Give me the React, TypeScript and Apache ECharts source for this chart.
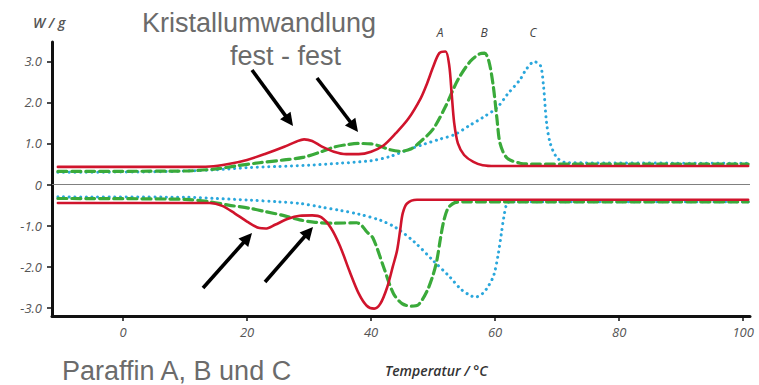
import React, { useEffect, useRef } from "react";
import * as echarts from "echarts";

type Pt = [number, number];

// DSC curves: heat flow (W/g) over temperature (°C)
// Heating runs (endothermic peaks, positive)
const heatA: Pt[] = [
  [-10.5, 0.43], [10, 0.43], [14, 0.44], [17, 0.5], [20, 0.6], [23, 0.75], [26, 0.92],
  [28, 1.05], [29.2, 1.1], [30.5, 1.06], [32, 0.93], [34, 0.8], [36, 0.74], [38, 0.74],
  [40, 0.8], [42, 0.95], [44, 1.25], [46, 1.6], [48, 2.1], [49, 2.45], [50, 2.86],
  [51, 3.2], [52, 3.24], [52.6, 2.9], [53, 2.2], [53.4, 1.5], [54, 1.0], [55, 0.72],
  [56.5, 0.55], [58, 0.47], [60, 0.45], [100.8, 0.45],
];
const heatB: Pt[] = [
  [-10.5, 0.32], [10, 0.33], [15, 0.38], [18, 0.45], [22, 0.53], [26, 0.6], [29, 0.66],
  [32, 0.8], [34, 0.91], [36, 0.97], [38, 1.0], [40, 0.99], [41.5, 0.93], [43, 0.85],
  [44.7, 0.81], [46.5, 0.87], [48, 1.05], [50, 1.35], [52, 1.9], [54, 2.55], [56, 3.0],
  [57.5, 3.18], [58.3, 3.2], [59, 3.0], [59.7, 2.4], [60.3, 1.6], [60.8, 1.0],
  [61.9, 0.65], [64, 0.52], [66, 0.5], [100.8, 0.5],
];
const heatC: Pt[] = [
  [-10.5, 0.3], [5, 0.31], [15, 0.36], [20, 0.41], [25, 0.44], [30, 0.47], [35, 0.52],
  [40, 0.58], [43, 0.68], [46, 0.85], [48.5, 0.98], [51, 1.1], [53.5, 1.22], [56, 1.45],
  [58, 1.63], [60.3, 1.87], [62, 2.2], [64, 2.55], [65, 2.8], [66.3, 2.99], [67.3, 2.9],
  [67.8, 2.4], [68.3, 1.5], [68.9, 1.0], [70, 0.65], [71.6, 0.53], [100.8, 0.52],
];

// Cooling runs (exothermic peaks, negative)
const coolA: Pt[] = [
  [-10.5, -0.45], [14, -0.45], [16, -0.52], [18, -0.7], [20, -0.9], [22, -1.06],
  [23, -1.07], [24.5, -0.98], [26.5, -0.84], [28.5, -0.76], [30.5, -0.75], [32, -0.8],
  [33.5, -1.05], [35, -1.5], [36.5, -2.1], [38, -2.65], [39.3, -2.95], [40.5, -3.02],
  [41.5, -2.9], [42.6, -2.5], [43.5, -2.0], [44.2, -1.6], [44.7, -1.1], [45.1, -0.7],
  [45.8, -0.46], [47.4, -0.37], [100.8, -0.37],
];
const coolB: Pt[] = [
  [-10.5, -0.34], [10, -0.36], [14, -0.42], [17, -0.5], [20.5, -0.58], [23, -0.66],
  [25.8, -0.75], [28.5, -0.86], [31, -0.92], [34, -0.94], [37.7, -0.93], [38.5, -1.0],
  [39.3, -1.15], [40.3, -1.3], [42, -2.0], [43.6, -2.65], [45, -2.9], [46.5, -2.96],
  [47.6, -2.93], [49, -2.6], [50, -2.2], [50.6, -1.85], [51.2, -1.3], [51.7, -0.9],
  [52.4, -0.58], [53.5, -0.44], [55, -0.42], [100.8, -0.42],
];
const coolC: Pt[] = [
  [-10.5, -0.3], [10, -0.31], [15, -0.34], [20.5, -0.38], [25, -0.42], [28.5, -0.46],
  [32, -0.55], [35, -0.63], [38, -0.72], [41.5, -0.87], [44, -1.05], [47, -1.4],
  [50, -1.85], [52.7, -2.25], [54.5, -2.55], [56, -2.7], [56.8, -2.74], [58, -2.65],
  [59, -2.45], [59.8, -2.2], [60.5, -1.7], [61, -1.2], [61.4, -0.8], [61.9, -0.46],
  [62.5, -0.42], [100.8, -0.42],
];

const xTicks = [0, 20, 40, 60, 80, 100];
const yTicks = [-3, -2, -1, 0, 1, 2, 3];
const peakNames = ["A", "B", "C"];

const RED = "#d0142c";
const GREEN = "#3aaa3a";
const BLUE = "#2aa7dc";
const GREY_TEXT = "#6b6b6b";
const AXIS_TEXT = "#555";

// Arrow built from a line and a triangular head
function arrow(tail: Pt, tip: Pt) {
  const dx = tip[0] - tail[0];
  const dy = tip[1] - tail[1];
  const len = Math.hypot(dx, dy);
  const ux = dx / len;
  const uy = dy / len;
  const headLen = 13;
  const halfW = 6.5;
  const bx = tip[0] - ux * headLen;
  const by = tip[1] - uy * headLen;
  return [
    {
      type: "line",
      shape: { x1: tail[0], y1: tail[1], x2: bx + ux * 2, y2: by + uy * 2 },
      style: { stroke: "#000", lineWidth: 3.6 },
    },
    {
      type: "polygon",
      shape: {
        points: [
          [tip[0], tip[1]],
          [bx - uy * halfW, by + ux * halfW],
          [bx + uy * halfW, by - ux * halfW],
        ],
      },
      style: { fill: "#000" },
    },
  ];
}

function lineSeries(data: Pt[], color: string, type: any, width: number, extra: any = {}) {
  return {
    type: "line",
    data,
    showSymbol: false,
    smooth: 0.3,
    lineStyle: { color, width, type, cap: "round", join: "round" },
    z: 3,
    ...extra,
  };
}

export default function App() {
  const ref = useRef<HTMLDivElement>(null);

  useEffect(() => {
    document.body.style.margin = "0";
    document.body.style.overflow = "hidden";
    if (!ref.current) return;
    const chart = echarts.init(ref.current, null, { renderer: "svg" });

    const axisLabelBase = {
      color: AXIS_TEXT,
      fontStyle: "italic",
      fontFamily: "Open Sans",
      fontSize: 13,
    };

    const option: any = {
      animation: false,
      grid: { left: 52, right: 9, top: 42, bottom: 69, containLabel: false },
      xAxis: {
        type: "value",
        min: -11.45,
        max: 101.1,
        axisLine: { onZero: false, lineStyle: { color: "#111", width: 3 } },
        axisTick: { show: true, length: 5, customValues: xTicks, lineStyle: { color: "#111", width: 1.5 } },
        axisLabel: { ...axisLabelBase, customValues: xTicks, margin: 9 },
        splitLine: { show: false },
      },
      yAxis: {
        type: "value",
        min: -3.2,
        max: 3.47,
        axisLine: { show: true, onZero: false, lineStyle: { color: "#111", width: 3 } },
        axisTick: { show: true, length: 5, customValues: yTicks, lineStyle: { color: "#111", width: 1.5 } },
        axisLabel: {
          ...axisLabelBase,
          customValues: yTicks,
          margin: 10,
          formatter: (v: number) => (v === 0 ? "0" : v.toFixed(1)),
        },
        splitLine: { show: false },
      },
      series: [
        lineSeries(heatC, BLUE, [0.1, 5.6], 3, {
          markLine: {
            silent: true,
            symbol: ["none", "none"],
            label: { show: false },
            lineStyle: { color: "#808080", width: 1.2, type: "solid" },
            data: [{ yAxis: 0 }],
          },
        }),
        lineSeries(coolC, BLUE, [0.1, 5.6], 3),
        lineSeries(heatB, GREEN, [9, 5], 3.2),
        lineSeries(coolB, GREEN, [9, 5], 3.2),
        lineSeries(heatA, RED, "solid", 2.6),
        lineSeries(coolA, RED, "solid", 2.6),
      ],
      graphic: [
        {
          type: "text",
          x: 33,
          y: 22,
          style: {
            text: "W / g",
            font: "italic 600 14px 'Open Sans'",
            fill: AXIS_TEXT,
            textVerticalAlign: "middle",
          },
        },
        {
          type: "text",
          x: 385,
          y: 370,
          style: {
            text: "Temperatur / °C",
            font: "italic 600 14px 'Open Sans'",
            fill: "#333",
            textVerticalAlign: "middle",
          },
        },
        ...peakNames.map((name, i) => ({
          type: "text",
          x: [440, 484, 533][i],
          y: 32,
          style: {
            text: name,
            font: "italic 12px 'Open Sans'",
            fill: "#444",
            textAlign: "center",
            textVerticalAlign: "middle",
          },
        })),
        {
          type: "text",
          x: 142,
          y: 22.5,
          style: {
            text: "Kristallumwandlung",
            font: "27px 'Liberation Sans'",
            fill: GREY_TEXT,
            textVerticalAlign: "middle",
          },
        },
        {
          type: "text",
          x: 230,
          y: 55.5,
          style: {
            text: "fest - fest",
            font: "27px 'Liberation Sans'",
            fill: GREY_TEXT,
            textVerticalAlign: "middle",
          },
        },
        {
          type: "text",
          x: 62,
          y: 370.5,
          style: {
            text: "Paraffin A, B und C",
            font: "27px 'Liberation Sans'",
            fill: GREY_TEXT,
            textVerticalAlign: "middle",
          },
        },
        ...arrow([252, 70], [293, 126]),
        ...arrow([317, 78], [358, 132]),
        ...arrow([203, 288], [252, 233]),
        ...arrow([265, 282], [313, 227]),
      ],
    };

    chart.setOption(option);
    return () => chart.dispose();
  }, []);

  return <div ref={ref} style={{ width: 759, height: 385 }} />;
}
